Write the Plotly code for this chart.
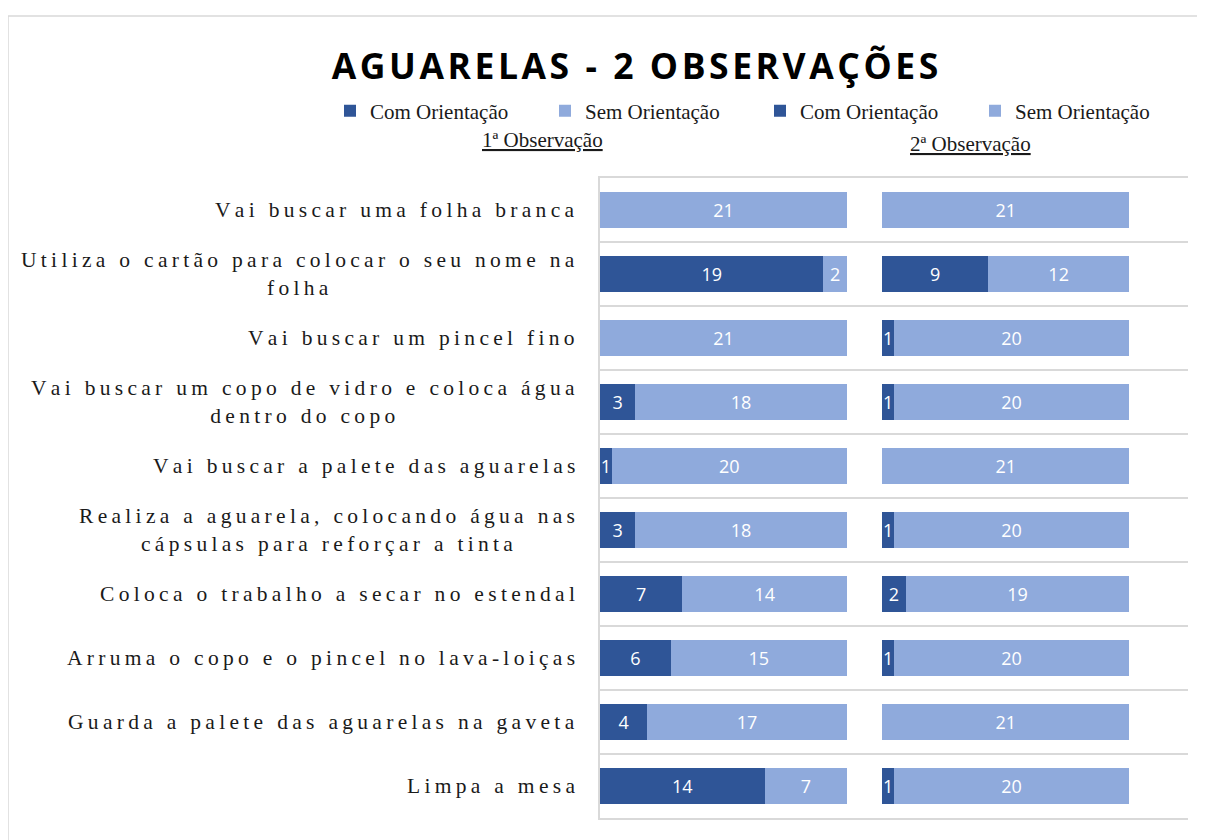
import plotly.graph_objects as go

categories = [
    "Vai buscar uma folha branca",
    "Utiliza o cartão para colocar o seu nome na<br>folha",
    "Vai buscar um pincel fino",
    "Vai buscar um copo de vidro e coloca água<br>dentro do copo",
    "Vai buscar a palete das aguarelas",
    "Realiza a aguarela, colocando água nas<br>cápsulas para reforçar a tinta",
    "Coloca o trabalho a secar no estendal",
    "Arruma o copo e o pincel no lava-loiças",
    "Guarda a palete das aguarelas na gaveta",
    "Limpa a mesa",
]
com_obs1 = [0, 19, 0, 3, 1, 3, 7, 6, 4, 14]
sem_obs1 = [21, 2, 21, 18, 20, 18, 14, 15, 17, 7]
com_obs2 = [0, 9, 1, 1, 0, 1, 2, 1, 0, 1]
sem_obs2 = [21, 12, 20, 20, 21, 20, 19, 20, 21, 20]
GAP = 3

DARK = "#2F5597"
LIGHT = "#8FAADC"
GRID = "#D9D9D9"

# page body adds an 8px offset; these helpers map screen px to paper coords
def px_x(px):
    return (px - 600) / 588


def px_y(py):
    return (818 - py) / 640


def spaced(s, sep="\u2009"):
    return "<br>".join(sep.join(list(line)) for line in s.split("<br>"))


def bar(vals, name, color, show=True):
    return go.Bar(
        y=categories, x=vals, name=name, orientation="h",
        marker=dict(color=color, line=dict(width=0)),
        text=[str(v) if v else "" for v in vals],
        textposition="inside", insidetextanchor="middle",
        textangle=0, constraintext="none",
        textfont=dict(family="Open Sans", size=18, color="white"),
        showlegend=show,
    )


fig = go.Figure()
fig.add_trace(bar(com_obs1, "Com Orientação", DARK))
fig.add_trace(bar(sem_obs1, "Sem Orientação", LIGHT))
fig.add_trace(go.Bar(
    y=categories, x=[GAP] * len(categories), orientation="h",
    marker=dict(color="rgba(0,0,0,0)", line=dict(width=0)),
    showlegend=False, hoverinfo="skip",
))
fig.add_trace(bar(com_obs2, "Com Orientação ", DARK))
fig.add_trace(bar(sem_obs2, "Sem Orientação ", LIGHT))

for c in categories:
    fig.add_annotation(
        x=0, xref="paper", y=c, yref="y", xanchor="right", xshift=-23,
        text=spaced(c), showarrow=False, align="center",
        font=dict(family="Liberation Serif", size=21.5, color="#1a1a1a"),
    )

for label, cx, cy in [("1ª Observação", 542, 140), ("2ª Observação", 970, 144)]:
    fig.add_annotation(
        x=px_x(cx), xref="paper", y=px_y(cy), yref="paper",
        xanchor="center", yanchor="middle",
        text="<u>" + label + "</u>", showarrow=False,
        font=dict(family="Liberation Serif", size=21, color="#1a1a1a"),
    )

fig.add_shape(
    type="rect", xref="paper", yref="paper",
    x0=px_x(8), x1=px_x(1225), y0=px_y(860), y1=px_y(16),
    line=dict(color=GRID, width=1.5), layer="below",
)

fig.update_layout(
    width=1205, height=840,
    margin=dict(l=592, r=25, t=170, b=30),
    paper_bgcolor="white", plot_bgcolor="white",
    barmode="stack", bargap=0.44,
    title=dict(
        text="<b>" + spaced("AGUARELAS - 2 OBSERVAÇÕES", "\u200a") + "</b>",
        x=627 / 1205, xanchor="center", y=1 - 59 / 840, yanchor="middle",
        font=dict(family="Open Sans", size=35.5, color="black"),
    ),
    legend=dict(
        orientation="h", x=px_x(330), xanchor="left",
        y=px_y(111), yanchor="middle", traceorder="normal",
        entrywidth=170, entrywidthmode="pixels",
        font=dict(family="Liberation Serif", size=21, color="#1a1a1a"),
        itemclick=False,
    ),
    xaxis=dict(range=[0, 50], showticklabels=False, showgrid=False,
               zeroline=False, fixedrange=True,
               showline=True, mirror=True, linecolor=GRID, linewidth=1.5),
    yaxis=dict(autorange="reversed", tickson="boundaries", showgrid=True,
               gridcolor=GRID, gridwidth=1.5, showticklabels=False,
               showline=True, linecolor=GRID, linewidth=1.5, ticks=""),
)

fig.write_html("out.html")
